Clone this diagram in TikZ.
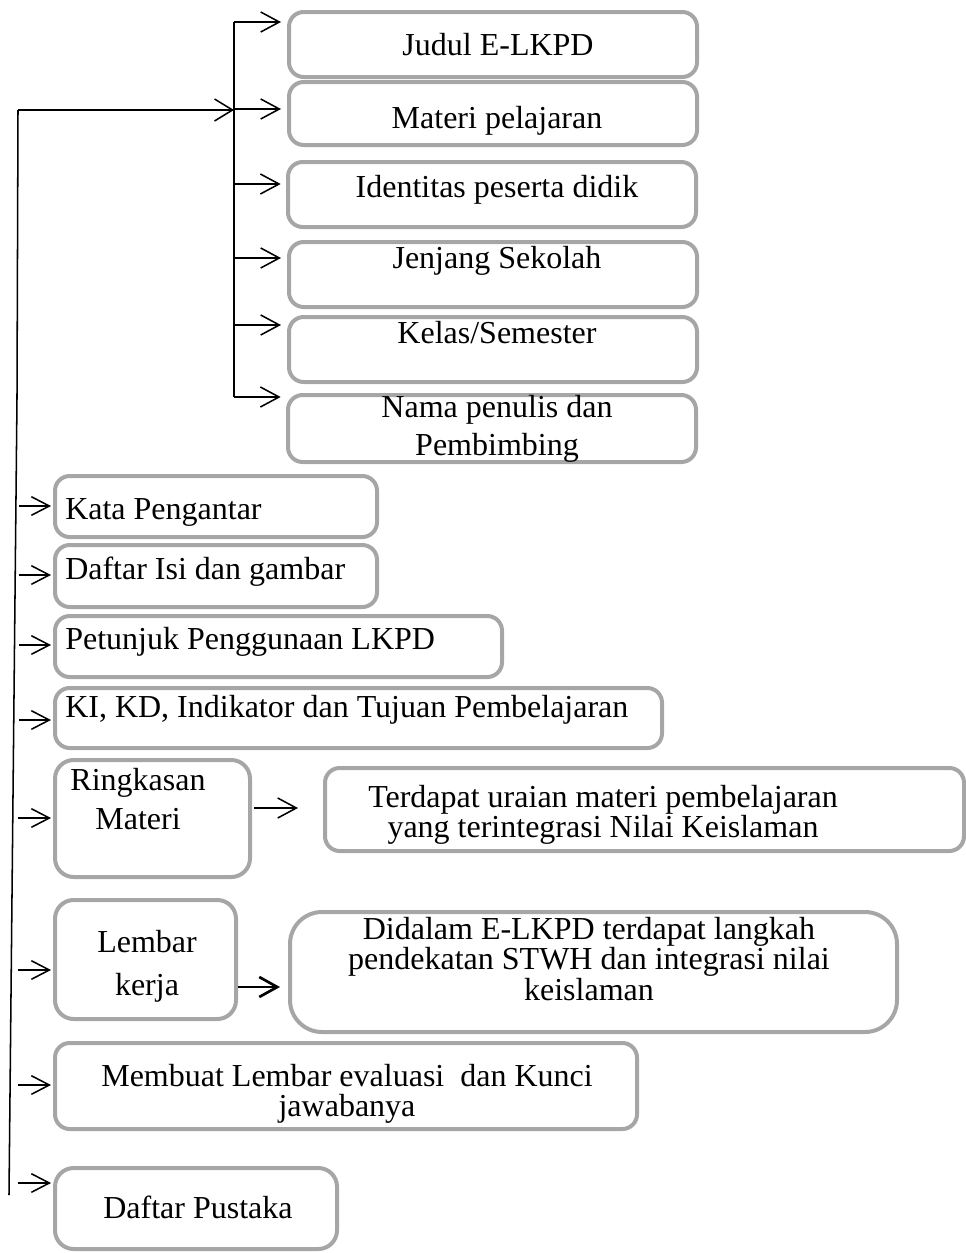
\documentclass[tikz,border=0pt]{standalone}
\usepackage{fontspec}
\setmainfont{Liberation Serif}
\usetikzlibrary{arrows.meta,fit}
\definecolor{boxgray}{HTML}{A6A6A6}
\tikzset{
  box/.style={draw=boxgray, line width=3pt, rounded corners=11pt, inner sep=0pt, fit={#1}},
  txt/.style={inner sep=0pt, anchor=base, align=center, font=\fontsize{24}{29}\selectfont},
  ltxt/.style={inner sep=0pt, anchor=base west, font=\fontsize{24}{29}\selectfont},
  conn/.style={line width=1.15pt, black},
  arr/.style={conn, -{Straight Barb[length=14pt,width=15pt]}},
}
\begin{document}
\begin{tikzpicture}[x=0.75pt,y=-0.75pt]
\useasboundingbox (0,0) rectangle (966,1253);

% ---------- top column of boxes ----------
\node[box={(289,12)(697,77)}]   (judul) {};
\node[box={(289,82)(697,145)}]  (materi) {};
\node[box={(288,162)(696,227)}] (ident) {};
\node[box={(289,242)(697,307)}] (jenjang) {};
\node[box={(289,317)(697,382)}] (kelas) {};
\node[box={(288,395)(696,462)}] (nama) {};

\node[txt] (tjudul)   at (498,55)  {Judul E-LKPD};
\node[txt] (tmateri)  at (497,128) {Materi pelajaran};
\node[txt] (tident)   at (497,197) {Identitas peserta didik};
\node[txt] (tjenjang) at (497,268) {Jenjang Sekolah};
\node[txt] (tkelas)   at (497,343) {Kelas/Semester};
\node[txt, font=\fontsize{24}{28.5}\selectfont] (tnama) at (497,455) {Nama penulis dan\\Pembimbing};

% ---------- lower boxes ----------
\node[box={(55,476)(377,537)}]   (kata) {};
\node[box={(55,545)(377,607)}]   (daftar) {};
\node[box={(55,616)(502,677)}]   (petunjuk) {};
\node[box={(55,688)(662,748)}]   (ki) {};
\node[box={(55,760)(250,877)}, rounded corners=14pt]   (ring) {};
\node[box={(325,768)(964,851)}]  (terd) {};
\node[box={(55,900)(236,1019)}, rounded corners=14pt]  (lembar) {};
\node[box={(290,912)(897,1032)}, rounded corners=24pt] (didalam) {};
\node[box={(55,1043)(637,1129)}] (membuat) {};
\node[box={(55,1168)(337,1249)}, rounded corners=14pt] (pustaka) {};

\node[ltxt] (tkata)     at (65,519) {Kata Pengantar};
\node[ltxt] (tdaftar)   at (65,579) {Daftar Isi dan gambar};
\node[ltxt] (tpetunjuk) at (65,649) {Petunjuk Penggunaan LKPD};
\node[ltxt] (tki)       at (65,717) {KI, KD, Indikator dan Tujuan Pembelajaran};
\node[txt, font=\fontsize{24}{29}\selectfont]   (tring)    at (138,829)  {Ringkasan\\Materi};
\node[txt, font=\fontsize{24}{22.5}\selectfont] (tterd)    at (603,837)  {Terdapat uraian materi pembelajaran\\yang terintegrasi Nilai Keislaman};
\node[txt, font=\fontsize{24}{32}\selectfont]   (tlembar)  at (147,995)  {Lembar\\kerja};
\node[txt, font=\fontsize{24}{21.75}\selectfont](tdidalam) at (589,1000)  {Didalam E-LKPD terdapat langkah\\pendekatan STWH dan integrasi nilai\\keislaman};
\node[txt, font=\fontsize{24}{22}\selectfont]   (tmembuat) at (347,1116) {Membuat Lembar evaluasi\ \ dan Kunci\\jawabanya};
\node[txt] (tpustaka) at (198,1218) {Daftar Pustaka};

% ---------- connectors ----------
\coordinate (mtop) at (18,110);
\coordinate (mbot) at (9,1195);
\coordinate (hub)  at (234,110);
\coordinate (h1) at (234,22);
\coordinate (h2) at (234,109);
\coordinate (h3) at (234,184);
\coordinate (h4) at (234,258);
\coordinate (h5) at (234,325);
\coordinate (h6) at (234,397);

\draw[conn] (mtop) -- (17,398) -- (mbot);
\draw[arr, -{Straight Barb[length=13.5pt,width=16.5pt]}] (mtop) -- (hub);
\draw[conn] (h1) -- (h6);
\draw[arr, shorten >=4.5pt] (h1) -- (h1 -| judul.west);
\draw[arr, shorten >=4.5pt] (h2) -- (h2 -| materi.west);
\draw[arr, shorten >=4pt]   (h3) -- (h3 -| ident.west);
\draw[arr, shorten >=4.5pt] (h4) -- (h4 -| jenjang.west);
\draw[arr, shorten >=4.5pt] (h5) -- (h5 -| kelas.west);
\draw[arr, shorten >=4pt]   (h6) -- (h6 -| nama.west);

\coordinate (l1) at (19,506);
\coordinate (l2) at (19,575);
\coordinate (l3) at (19,645);
\coordinate (l4) at (19,720);
\coordinate (l5) at (18,818);
\coordinate (l6) at (18,970);
\coordinate (l7) at (18,1085);
\coordinate (l8) at (18,1183);
\tikzset{larr/.style={arr, -{Straight Barb[length=13.5pt,width=14pt]}, shorten >=1.5pt}}
\draw[larr] (l1) -- (l1 -| kata.west);
\draw[larr] (l2) -- (l2 -| daftar.west);
\draw[larr] (l3) -- (l3 -| petunjuk.west);
\draw[larr] (l4) -- (l4 -| ki.west);
\draw[larr] (l5) -- (l5 -| ring.west);
\draw[larr] (l6) -- (l6 -| lembar.west);
\draw[larr] (l7) -- (l7 -| membuat.west);
\draw[larr] (l8) -- (l8 -| pustaka.west);

\coordinate (rt) at (253,808);
\draw[arr, shorten <=1.5pt, shorten >=18.75pt] (rt -| ring.east) -- (rt -| terd.west);
\coordinate (ld) at (237,987);
\draw[arr, line width=2pt, -{Straight Barb[length=13.5pt,width=15pt]}, shorten >=6pt] (ld -| lembar.east) -- (ld -| didalam.west);
\end{tikzpicture}
\end{document}
